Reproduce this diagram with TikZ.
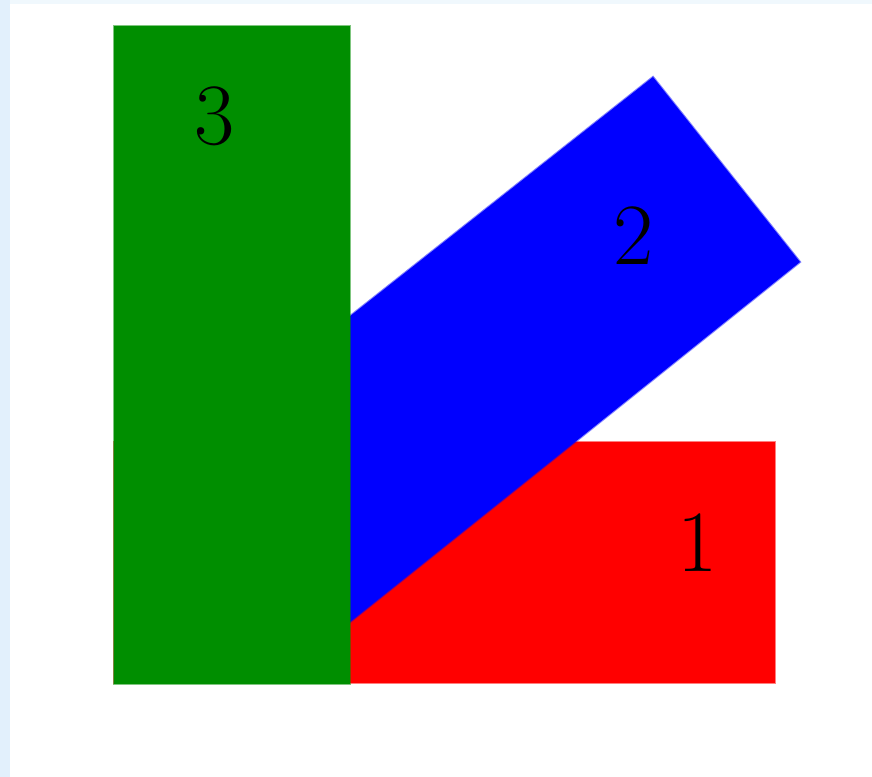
\documentclass[tikz,border=0pt]{standalone}
\usepackage{tikz}
\definecolor{barred}{RGB}{255,0,0}
\definecolor{barblue}{RGB}{0,0,255}
\definecolor{bargreen}{RGB}{0,142,0}
\definecolor{edgeblue}{RGB}{226,240,252}

\begin{document}
\begin{tikzpicture}[x=1cm,y=1cm,
	bar/.style={fill=#1, draw=#1, draw opacity=0.5, line width=0.6pt},
	num/.style={font=\Huge, inner sep=0pt}]
	\useasboundingbox (0,0) rectangle (8.72,7.77);
	% screenshot edge
	\fill[edgeblue] (0,0) rectangle (0.10,7.77);
	\fill[edgeblue!50] (0.10,7.73) rectangle (8.72,7.77);
	% the three bars
	\draw[bar=barred] (1.14,0.94) rectangle (7.75,3.35);
	\draw[bar=barblue] (6.53,7.00) -- (8.00,5.15) -- (3.30,1.39) -- (1.83,3.29) -- cycle;
	\draw[bar=bargreen] (1.14,0.93) rectangle (3.50,7.51);
	% labels
	\node[num] (one) at (6.975,2.34) {1};
	\node[num] (two) at (6.34,5.415) {2};
	\node[num] (three) at (2.15,6.61) {3};
\end{tikzpicture}
\end{document}
